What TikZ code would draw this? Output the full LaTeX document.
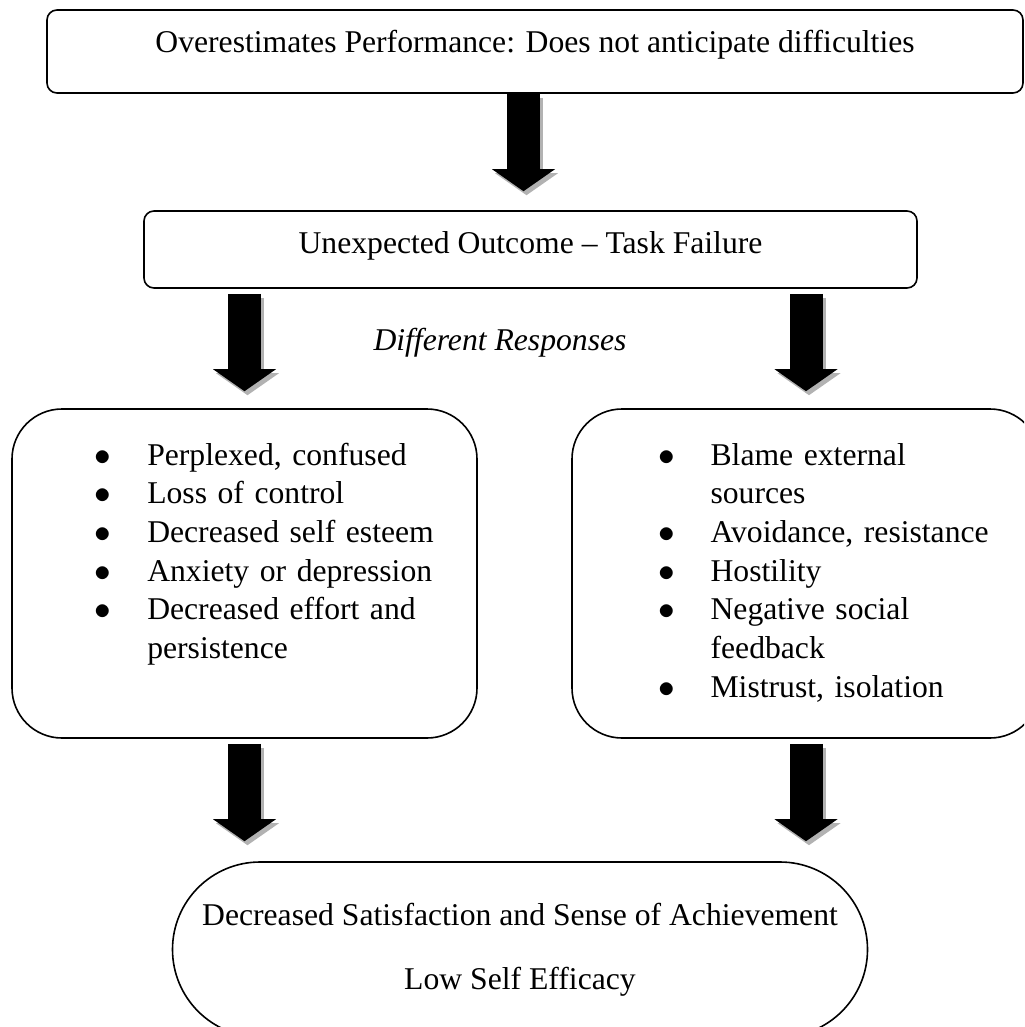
\documentclass[tikz,border=0pt]{standalone}
\usepackage{fontspec}
\setmainfont{Liberation Serif}
\usetikzlibrary{arrows.meta,shapes.misc}

\begin{document}
\begin{tikzpicture}[x=0.75pt,y=-0.75pt,
    every node/.style={font=\fontsize{23.75pt}{29pt}\selectfont},
    textbox/.style={draw,line width=1.2pt,rounded corners=7.5pt,inner sep=0pt},
    listbox/.style={draw,line width=1.2pt,rounded corners=37.5pt,inner sep=0pt,
                    minimum height=246.75pt,align=left},
    endbox/.style={draw,line width=1.2pt,rounded rectangle,inner sep=0pt,
                   minimum width=521.25pt,minimum height=131.25pt,align=center},
    bigarrow/.style={line width=24.75pt,
                     -{Triangle[width=47.25pt,length=16.5pt,line width=0pt]}},
    arrowshade/.style={bigarrow,draw=black!30,transform canvas={shift={(2.25pt,-3pt)}}},
    arrowbody/.style={bigarrow,draw=black}]

  \clip (0,0) rectangle (1024,1027);

  \node[textbox,minimum width=732pt,text height=32.25pt,text depth=30pt] (overest) at (535,51.5)
    {Overestimates Performance: Does not anticipate difficulties};
  \node[textbox,minimum width=579.75pt,text height=31.5pt,text depth=26.25pt] (failure) at (530.5,249.5)
    {Unexpected Outcome – Task Failure};
  \node[font=\fontsize{23.75pt}{29pt}\selectfont\itshape] (responses) at (500,343) {Different Responses};

  \node[listbox,text width=348.75pt] (inward) at (244.5,573.5) {\noindent\hspace*{62pt}%
    \begin{tabular}{@{}l@{\hspace{27pt}}l@{}}
      $\bullet$ & Perplexed, confused\\
      $\bullet$ & Loss of control\\
      $\bullet$ & Decreased self esteem\\
      $\bullet$ & Anxiety or depression\\
      $\bullet$ & Decreased effort and\\
                & persistence\\
                &
    \end{tabular}};
  \node[listbox,text width=351pt] (outward) at (806,573.5) {\noindent\hspace*{64.5pt}%
    \begin{tabular}{@{}l@{\hspace{27pt}}l@{}}
      $\bullet$ & Blame external\\
                & sources\\
      $\bullet$ & Avoidance, resistance\\
      $\bullet$ & Hostility\\
      $\bullet$ & Negative social\\
                & feedback\\
      $\bullet$ & Mistrust, isolation
    \end{tabular}};

  \node[endbox] (lowse) at (520,949.5)
    {Decreased Satisfaction and Sense of Achievement\\[19pt]Low Self Efficacy};

  % block arrows, grey shade first
  \foreach \s in {arrowshade,arrowbody} {
    \draw[\s,shorten >=14.25pt] ([xshift=-5.25pt]failure.north |- overest.south) -- ([xshift=-5.25pt]failure.north);
    \draw[\s,shorten <=3.75pt,shorten >=12.75pt] (inward.north |- failure.south) -- (inward.north);
    \draw[\s,shorten <=3.75pt,shorten >=12.75pt] (outward.north |- failure.south) -- (outward.north);
    \draw[\s,shorten <=3.75pt,shorten >=15pt] (inward.south) -- (inward.south |- lowse.north);
    \draw[\s,shorten <=3.75pt,shorten >=15pt] (outward.south) -- (outward.south |- lowse.north);
  }
\end{tikzpicture}
\end{document}
